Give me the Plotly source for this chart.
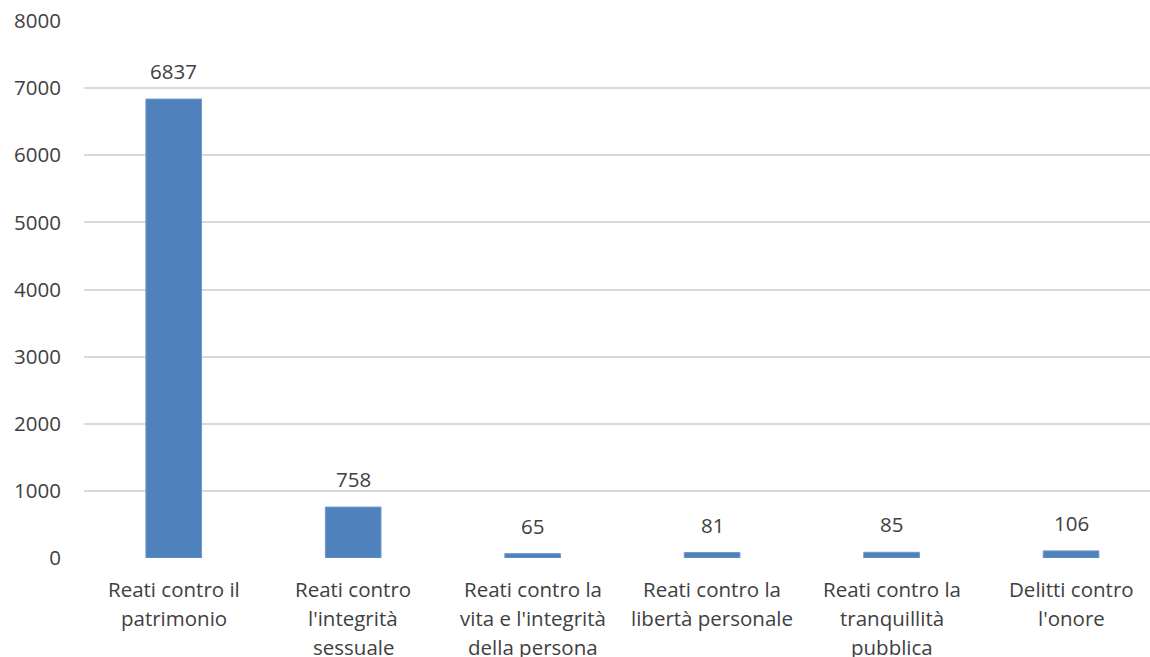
import plotly.graph_objects as go

# Reati per categoria
categories = [
    "Reati contro il patrimonio",
    "Reati contro l'integrità sessuale",
    "Reati contro la vita e l'integrità della persona",
    "Reati contro la libertà personale",
    "Reati contro la tranquillità pubblica",
    "Delitti contro l'onore",
]
label_lines = [
    ["Reati contro il", "patrimonio"],
    ["Reati contro", "l'integrità", "sessuale"],
    ["Reati contro la", "vita e l'integrità", "della persona"],
    ["Reati contro la", "libertà personale"],
    ["Reati contro la", "tranquillità", "pubblica"],
    ["Delitti contro", "l'onore"],
]
values = [6837, 758, 65, 81, 85, 106]
y_ticks = [0, 1000, 2000, 3000, 4000, 5000, 6000, 7000, 8000]

FONT = "Open Sans"
SIZE = 20.5
TEXT = "#404040"
x_idx = list(range(len(categories)))

fig = go.Figure(
    go.Bar(
        x=x_idx,
        y=values,
        width=0.31,
        marker=dict(color="#4F81BD", line=dict(color="#6f97c9", width=1)),
        hovertext=categories,
    )
)

# value labels above bars
for i, v in zip(x_idx, values):
    fig.add_annotation(
        x=i, y=v, text=str(v), showarrow=False, yanchor="bottom", yshift=12,
        font=dict(family=FONT, size=SIZE, color=TEXT),
    )

# category labels under the axis, one line at a time
for i, lines in zip(x_idx, label_lines):
    for j, line in enumerate(lines):
        fig.add_annotation(
            x=i, y=0, yref="y", text=line, showarrow=False, yanchor="middle",
            yshift=-(31 + 29 * j), font=dict(family=FONT, size=SIZE, color=TEXT),
        )

fig.update_layout(
    width=1150,
    height=657,
    margin=dict(l=84, r=0, t=21, b=99),
    paper_bgcolor="white",
    plot_bgcolor="white",
    showlegend=False,
    font=dict(family=FONT, size=SIZE, color=TEXT),
)
fig.update_xaxes(
    range=[-0.5, 5.44],
    showticklabels=False,
    showgrid=False,
    zeroline=False,
    showline=False,
    ticks="",
)
fig.update_yaxes(
    range=[0, 8000],
    tickvals=y_ticks,
    ticktext=[str(t) for t in y_ticks],
    showgrid=True,
    gridcolor="#d9d9d9",
    gridwidth=1.5,
    zeroline=False,
    showline=False,
    ticks="",
    ticklabelstandoff=22,
    tickfont=dict(family=FONT, size=SIZE, color=TEXT),
)

fig.write_html("out.html")
